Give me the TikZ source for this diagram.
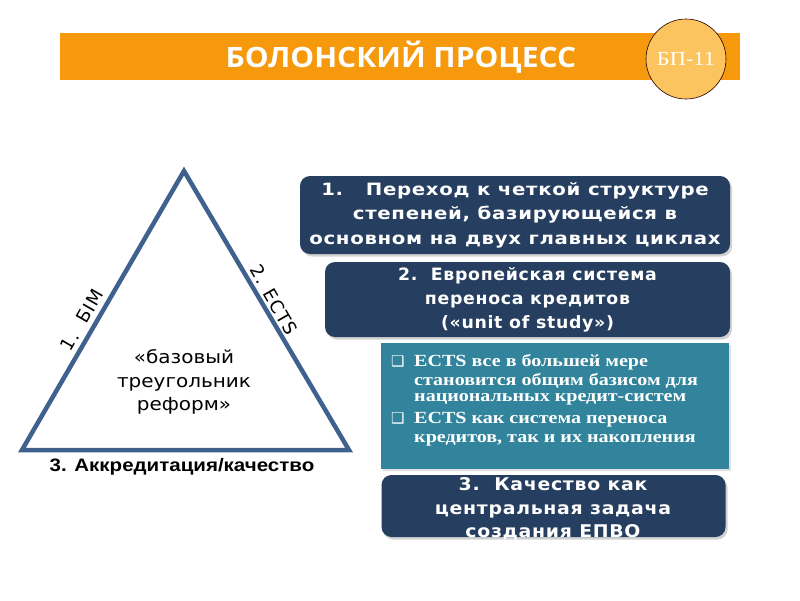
\documentclass[tikz,border=0pt]{standalone}
\usepackage{fontspec}
\usetikzlibrary{shadows}
\setmainfont{DejaVu Sans}
\newfontfamily\titlefont[FakeStretch=1.07]{Open Sans}
\newfontfamily\vfont[FakeStretch=1.11]{DejaVu Sans}
\newfontfamily\bulfont{DejaVu Sans}
\newfontfamily\lblfont[LetterSpace=6]{DejaVu Sans}
\newfontfamily\boxafont[LetterSpace=4,FakeStretch=1.16]{DejaVu Sans}
\newfontfamily\boxbfont[LetterSpace=4,FakeStretch=1.02]{DejaVu Sans}
\newfontfamily\boxcfont[LetterSpace=4,FakeStretch=1.08]{DejaVu Sans}
\newfontfamily\tfont[FakeStretch=1.18]{Liberation Serif}
\newfontfamily\cfont[FakeStretch=1.12]{Liberation Serif}
\newfontfamily\afont[FakeStretch=1.14]{Liberation Sans}
\definecolor{orangebar}{RGB}{247,153,12}
\definecolor{circfill}{RGB}{251,196,94}
\definecolor{navy}{RGB}{38,62,96}
\definecolor{tealbox}{RGB}{49,132,155}
\definecolor{triblue}{RGB}{62,97,142}
\newcommand{\bul}{\makebox[23pt][l]{\bulfont\fontsize{15}{15}\selectfont ❑}}
\begin{document}
\begin{tikzpicture}[x=1pt,y=-1pt,
  darkbox/.style={fill=navy, rounded corners=10pt, inner sep=0pt, align=center, text=white,
    drop shadow={shadow xshift=2pt, shadow yshift=-2.5pt, opacity=0.35}},
  sidelabel/.style={font=\lblfont\fontsize{18}{20}\selectfont, inner sep=0pt}
]
\useasboundingbox (0,0) rectangle (800,600);
\fill[white] (0,0) rectangle (800,600);

% title bar
\node[fill=orangebar, minimum width=680pt, minimum height=47pt, inner sep=0pt, anchor=north west] (bar) at (60,33) {};
\node[text=white, font=\titlefont\bfseries\fontsize{28}{30}\selectfont, inner sep=0pt] (title) at (401,57) {БОЛОНСКИЙ ПРОЦЕСС};
\node[circle, fill=circfill, draw=black!85!red, line width=0.6pt, minimum size=80pt, inner sep=0pt,
  text=white, font=\cfont\fontsize{20}{22}\selectfont] (bp) at (686,59) {БП-11};

% triangle
\coordinate (A) at (184,171);
\coordinate (B) at (22,450);
\coordinate (C) at (349,450);
\draw[triblue, line width=4.5pt, line join=miter] (A) -- (B) -- (C) -- cycle;
\node[sidelabel, rotate=60] (l1) at (82,320) {1.\ \ БІМ};
\node[sidelabel, rotate=-60] (l2) at (274,300) {2. ECTS};
\node[align=center, font=\vfont\fontsize{18}{23.5}\selectfont, inner sep=0pt] (core) at (184,382) {«базовый\\треугольник\\реформ»};
\node[font=\afont\bfseries\fontsize{18}{20}\selectfont, inner sep=0pt] (l3) at (182,467) {3. Аккредитация/качество};

% right boxes
\node[darkbox, font=\boxafont\bfseries\fontsize{17}{24.5}\selectfont, minimum width=430pt, minimum height=78pt] (b1) at (515,215)
  {1.\ \ \ Переход к четкой структуре\\степеней, базирующейся в\\основном на двух главных циклах};
\node[darkbox, font=\boxbfont\bfseries\fontsize{17}{24}\selectfont, minimum width=405pt, minimum height=75pt] (b2) at (527.5,299.5)
  {2.\ \ Европейская система\\переноса кредитов\\(«unit of study»)};
\node[fill=tealbox, minimum width=348pt, minimum height=126pt, inner sep=0pt,
  drop shadow={shadow xshift=1.5pt, shadow yshift=-1.5pt, opacity=0.25}] (teal) at (555,406) {};
\node[anchor=north west, align=left, text=white, inner sep=0pt,
  font=\tfont\bfseries\fontsize{17}{19}\selectfont] (tealtext) at (391,354)
  {\bul ECTS все в большей мере\\
   \hspace*{23pt}становится общим базисом для\\[-3pt]
   \hspace*{23pt}национальных кредит-систем\\[3pt]
   \bul ECTS как система переноса\\
   \hspace*{23pt}кредитов, так и их накопления};
\node[darkbox, minimum width=344pt, minimum height=62pt] (b3) at (553.5,506) {};
\node[text=white, align=center, inner sep=0pt, font=\boxcfont\bfseries\fontsize{17.5}{23.5}\selectfont] (b3text) at (553,509)
  {3.\ \ Качество как\\центральная задача\\создания ЕПВО};
\end{tikzpicture}
\end{document}
